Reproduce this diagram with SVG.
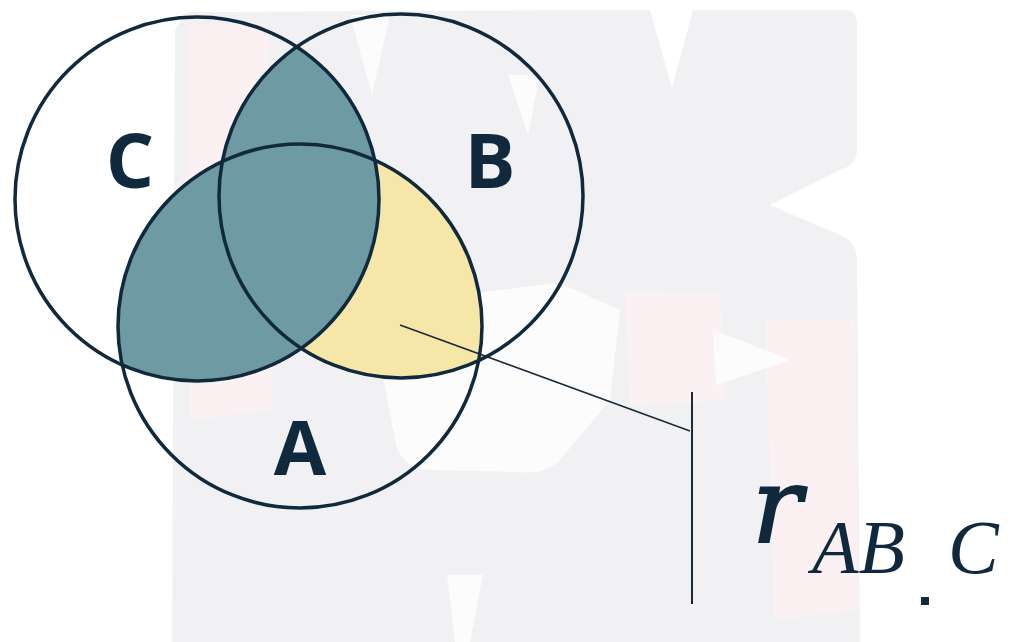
<svg xmlns="http://www.w3.org/2000/svg" width="1014" height="642" viewBox="0 0 1014 642">
<style>
.ring{fill:none;stroke:#10293d;stroke-width:3.5}
.lbl{font-family:"Open Sans","Liberation Sans",sans-serif;font-weight:700;fill:#10293d;text-anchor:middle}
.math{font-family:"Liberation Serif","DejaVu Serif",serif;font-style:italic;fill:#10293d}
.wm{fill:#f1f1f4}
.pk{fill:#fbf1f3}
.wh{fill:#fcfcfd}
</style>
<defs>
<clipPath id="clipA"><circle cx="300" cy="326" r="182"/></clipPath>
<clipPath id="clipB"><circle cx="401" cy="196" r="182"/></clipPath>
<mask id="notC"><rect width="1014" height="642" fill="#fff"/><circle cx="197" cy="199" r="182" fill="#000"/></mask>
</defs>
<rect width="1014" height="642" fill="#ffffff"/>
<g id="watermark">
<path class="wm" d="M183 18 Q183 12 195 12 L650 10 L672 88 L693 10 L845 10 Q857 10 857 25 L857 150 Q857 165 840 170 L770 205 L840 235 Q857 242 857 260 L860 642 L172 642 L175 30 Z"/>
<path class="pk" d="M188 25 L268 25 L272 410 L190 420 Z"/>
<path class="pk" d="M625 290 L720 295 L725 400 L630 405 Z"/>
<path class="pk" d="M765 320 L855 320 L858 610 L775 620 Z"/>
<path class="wh" d="M350 15 L390 15 L372 95 Z"/>
<path class="wh" d="M508 75 L540 75 L528 135 Z"/>
<path class="wh" d="M380 318 Q390 300 420 300 L540 285 Q560 282 575 290 L620 310 L610 400 L560 460 Q545 475 520 472 L430 470 Q400 468 395 440 L378 350 Z"/>
<path class="wh" d="M713 330 L790 360 L716 385 Z"/>
<path class="wh" d="M447 575 L483 575 L470 642 L455 642 Z"/>
</g>
<g id="regions">
<g clip-path="url(#clipB)"><circle cx="197" cy="199" r="182" fill="#6e9aa4"/></g>
<g clip-path="url(#clipA)"><circle cx="197" cy="199" r="182" fill="#6e9aa4"/></g>
<g clip-path="url(#clipA)" mask="url(#notC)"><circle cx="401" cy="196" r="182" fill="#f6e6a8"/></g>
</g>
<g id="circle-C"><circle class="ring" cx="197" cy="199" r="182"/><text class="lbl" x="130" y="188" font-size="76">C</text></g>
<g id="circle-B"><circle class="ring" cx="401" cy="196" r="182"/><text class="lbl" x="490" y="188" font-size="76">B</text></g>
<g id="circle-A"><circle class="ring" cx="300" cy="326" r="182"/><text class="lbl" x="300" y="475" font-size="76">A</text></g>
<g id="connectors">
<line x1="400" y1="325" x2="690" y2="431" stroke="#1a2a38" stroke-width="1.6"/>
<line x1="692" y1="392" x2="692" y2="604" stroke="#1a2a38" stroke-width="2"/>
</g>
<g id="formula">
<text x="752" y="542" font-size="104" font-family="'DejaVu Serif',serif" font-style="italic" fill="#10293d" stroke="#10293d" stroke-width="2">r</text>
<text class="math" x="812" y="573" font-size="76">AB</text>
<rect x="921" y="597" width="8" height="8" fill="#10293d"/>
<text class="math" x="948" y="573" font-size="76">C</text>
</g>
</svg>
